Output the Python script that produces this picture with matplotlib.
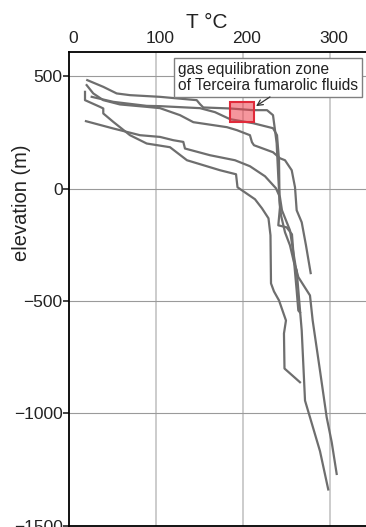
import matplotlib
matplotlib.use("Agg")
import matplotlib.pyplot as plt
from matplotlib.patches import Rectangle
import matplotlib.transforms as mtransforms

plt.rcParams['font.family'] = ['Liberation Sans', 'DejaVu Sans']

# --- data: temperature (°C) vs elevation (m) for the well profiles ---
well_a_T = [21.0, 39.4, 54.8, 70.1, 104.6, 146.8, 150.6, 154.4, 185.1, 211.5, 227.6, 234.5, 236.8, 238.7,
            240.6, 242.5, 240.6, 250.2, 256.3, 258.6, 261.7, 263.6, 265.5]
well_a_z = [482.8, 452.9, 423.5, 415.9, 408.4, 393.6, 375.8, 361.1, 356.6, 349.1, 349.1, 326.8, 259.9, 201.9,
            50.4, -83.4, -163.6, -172.6, -203.7, -319.6, -453.4, -542.6, -551.5]

well_b_T = [20.3, 27.9, 39.4, 58.6, 89.3, 104.6, 127.6, 142.9, 181.6, 193.1, 208.0, 210.3, 212.6, 234.5,
            242.5, 248.3, 256.0, 259.8, 261.7, 267.5, 272.4, 277.8]
well_b_z = [460.5, 423.5, 393.6, 374.5, 363.8, 358.0, 326.8, 295.6, 273.3, 259.9, 237.6, 206.4, 193.0, 161.8,
            135.0, 126.1, 81.6, 5.8, -96.7, -150.2, -252.7, -376.3]

well_c_T = [26.1, 50.9, 89.3, 104.6, 150.6, 167.8, 185.1, 211.5, 234.5, 239.1, 241.4, 242.0, 243.7, 248.3,
            254.0, 258.6, 261.7, 267.5, 271.3, 277.0, 288.5, 298.0]
well_c_z = [408.4, 386.1, 368.2, 366.9, 358.0, 340.2, 309.0, 291.1, 268.8, 237.6, 126.1, -52.1, -119.0, -194.8,
            -252.7, -328.5, -364.2, -631.7, -943.8, -1018.2, -1168.8, -1339.5]

well_d_T = [18.4, 18.4, 35.6, 39.4, 39.4, 50.9, 70.1, 89.3, 116.1, 135.6, 173.6, 192.0, 193.7, 213.8, 221.8,
            229.3, 231.6, 232.2, 235.6, 241.4, 249.4, 247.1, 247.7, 265.5]
well_d_z = [430.6, 393.6, 363.8, 356.6, 334.4, 296.9, 237.6, 200.6, 184.1, 126.1, 81.6, 63.7, 5.8, -47.6, -87.8,
            -132.4, -208.1, -422.2, -457.8, -498.0, -587.2, -645.1, -801.1, -862.2]

well_e_T = [19.5, 50.9, 81.6, 104.6, 119.9, 131.4, 133.3, 162.1, 190.8, 208.0, 225.3, 237.9, 242.5, 244.8,
            254.0, 257.5, 260.9, 263.6, 277.0, 280.1, 288.5, 296.2, 302.0, 307.7]
well_e_z = [300.0, 267.5, 237.6, 230.0, 215.3, 207.7, 178.3, 148.4, 126.1, 99.4, 54.8, 1.3, -38.8, -96.7,
            -185.9, -275.1, -355.3, -394.1, -475.7, -587.2, -810.1, -1018.2, -1129.6, -1270.5]

wells = [(well_a_T, well_a_z), (well_b_T, well_b_z), (well_c_T, well_c_z),
         (well_d_T, well_d_z), (well_e_T, well_e_z)]

zone_T = (185, 213)
zone_z = (295, 384)

x_ticks = [0, 100, 200, 300]
y_ticks = [500, 0, -500, -1000, -1500]

W, H = 366, 527
fig = plt.figure(figsize=(W / 100, H / 100), dpi=100)
ax = fig.add_axes([69 / W, 1 - 525.5 / H, (366 - 69) / W, (525.5 - 52) / H])

ax.set_xlim(0, 341.4)
ax.set_ylim(-1500, 608)

# grid
for t in x_ticks[1:]:
    ax.axvline(t, color='#c8c8c8', lw=1.3, zorder=1)
for z in y_ticks[:-1]:
    ax.axhline(z, color='#9a9a9a', lw=0.8, zorder=1)

for T, z in wells:
    ax.plot(T, z, color='#6e6e6e', lw=1.6, zorder=3, solid_joinstyle='round')

ax.add_patch(Rectangle((zone_T[0], zone_z[0]), zone_T[1] - zone_T[0], zone_z[1] - zone_z[0],
                       facecolor=(0.93, 0.25, 0.3, 0.55), edgecolor='#e02a3a', lw=1.5, zorder=4))

ax.text(125.3, 495, "gas equilibration zone\nof Terceira fumarolic fluids", fontsize=11.2,
        ha='left', va='center', linespacing=1.1, zorder=5, color='#222222',
        bbox=dict(boxstyle='square,pad=0.25', facecolor='white', edgecolor='#808080', lw=1.0))
ax.annotate("", xy=(215, 367), xytext=(231, 408),
            arrowprops=dict(arrowstyle='->', color='#333333', lw=0.9, shrinkA=0, shrinkB=0), zorder=5)

ax.xaxis.tick_top()
ax.set_xticks(x_ticks)
ax.set_yticks(y_ticks)
ax.tick_params(axis='x', length=0, pad=4, labelsize=12.5, colors='#222222')
ax.tick_params(axis='y', length=4.5, width=1.2, pad=0, labelsize=12.5, colors='#222222')
offset = mtransforms.ScaledTranslation(4 / 100, 0, fig.dpi_scale_trans)
for lab in ax.get_xticklabels():
    lab.set_transform(lab.get_transform() + offset)

for s in ['left', 'top', 'bottom']:
    ax.spines[s].set_color('black')
    ax.spines[s].set_linewidth(1.3)
ax.spines['right'].set_visible(False)

ax.set_ylabel("elevation (m)", fontsize=14.5, color='#222222')
ax.yaxis.set_label_coords((31 - 69) / 297, (525.5 - 203) / 473.5)
fig.text(207 / W, 1 - 22 / H, "T °C", fontsize=15, ha='center', va='center', color='#222222')

fig.savefig("out.png", dpi=100)
